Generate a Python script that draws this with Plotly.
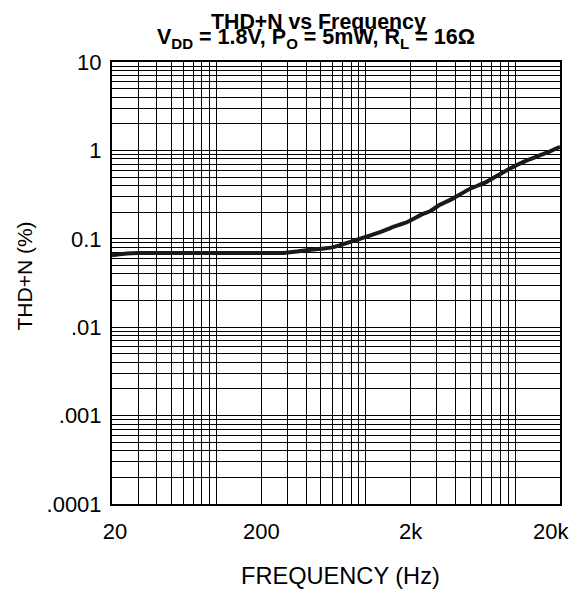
import plotly.graph_objects as go

# Data
freq = [20, 25, 30, 50, 100, 200, 270, 300, 400, 500, 600, 800, 1000, 1250,
        1500, 1900, 2400, 2700, 3100, 3800, 5000, 6400, 8700, 12000, 16000, 20000]
thdn = [0.065, 0.068, 0.069, 0.069, 0.069, 0.069, 0.069, 0.070, 0.074, 0.077,
        0.080, 0.093, 0.105, 0.119, 0.135, 0.155, 0.190, 0.205, 0.240, 0.283,
        0.368, 0.438, 0.59, 0.77, 0.93, 1.1]

x_labels = {20: "20", 200: "200", 2000: "2k", 20000: "20k"}
y_labels = {10: "10", 1: "1", 0.1: "0.1", 0.01: ".01", 0.001: ".001", 0.0001: ".0001"}

title_line1 = "<b>THD+N vs Frequency</b>"
title_line2 = "<b>V<sub>DD</sub> = 1.8V, P<sub>O</sub> = 5mW, R<sub>L</sub> = 16Ω</b>"
x_title = "FREQUENCY (Hz)"
y_title = "THD+N (%)"

# grid positions (log minor steps)
x_grid = []
for dec in [10, 100, 1000, 10000]:
    for k in range(1, 10):
        v = k * dec
        if 20 <= v <= 20000:
            x_grid.append(v)
y_grid = []
for e in [-4, -3, -2, -1, 0]:
    for k in range(1, 10):
        y_grid.append(round(k * 10 ** e, 6))
y_grid.append(10)

NB = "\u00a0"
def pad_x(v, t):
    # keep the end labels inside the page like in the reference
    if v == 20:
        return NB + t
    if v == 20000:
        return t + NB * 3
    return t

x_text = [pad_x(v, x_labels[v]) if v in x_labels else "" for v in x_grid]
y_text = [next((t for val, t in y_labels.items() if abs(val - v) < 1e-9), "") for v in y_grid]

font = "Liberation Sans, Arial, sans-serif"
OFF = 8  # default page body margin
W, H = 577 - OFF, 592 - OFF
L, R, T, B = 112 - OFF, 17, 62 - OFF, 88
pw, ph = W - L - R, H - T - B

def px_to_paper_x(px):
    return (px - OFF - L) / pw

def px_to_paper_y(py):
    return (H - B - (py - OFF)) / ph

fig = go.Figure()
fig.add_trace(go.Scatter(x=freq, y=thdn, mode="lines",
                         line=dict(color="#1a1a1a", width=4, shape="spline", smoothing=0.4),
                         showlegend=False))

fig.update_layout(
    width=W, height=H,
    margin=dict(l=L, r=R, t=T, b=B, autoexpand=False),
    paper_bgcolor="white", plot_bgcolor="white",
    font=dict(family=font, color="black", size=22),
    annotations=[
        dict(text=title_line1, xref="paper", yref="paper",
             x=px_to_paper_x(318), y=px_to_paper_y(21.5), xanchor="center", yanchor="middle",
             showarrow=False, font=dict(family=font, size=21.3, color="black")),
        dict(text=title_line2, xref="paper", yref="paper",
             x=px_to_paper_x(316), y=px_to_paper_y(39), xanchor="center", yanchor="middle",
             showarrow=False, font=dict(family=font, size=21.5, color="black")),
        dict(text=x_title, xref="paper", yref="paper",
             x=px_to_paper_x(340), y=px_to_paper_y(576), xanchor="center", yanchor="middle",
             showarrow=False, font=dict(family=font, size=23.6, color="black")),
        dict(text=y_title, xref="paper", yref="paper", textangle=-90,
             x=px_to_paper_x(23.5), y=px_to_paper_y(276), xanchor="center", yanchor="middle",
             showarrow=False, font=dict(family=font, size=21, color="black")),
    ],
)

fig.update_xaxes(type="log", range=[1.30103, 4.30103], automargin=False,
                 tickmode="array", tickvals=x_grid, ticktext=x_text,
                 showgrid=True, gridcolor="black", gridwidth=1,
                 showline=True, linecolor="black", linewidth=2, mirror=True,
                 ticks="", ticklabelstandoff=7, ticklabeloverflow="allow",
                 tickfont=dict(size=22, family=font),
                 zeroline=False)
fig.update_yaxes(type="log", range=[-4, 1], automargin=False,
                 tickmode="array", tickvals=y_grid, ticktext=y_text,
                 showgrid=True, gridcolor="black", gridwidth=1,
                 showline=True, linecolor="black", linewidth=2, mirror=True,
                 ticks="", ticklabelstandoff=4, tickfont=dict(size=22, family=font),
                 zeroline=False)

fig.write_html("out.html")
